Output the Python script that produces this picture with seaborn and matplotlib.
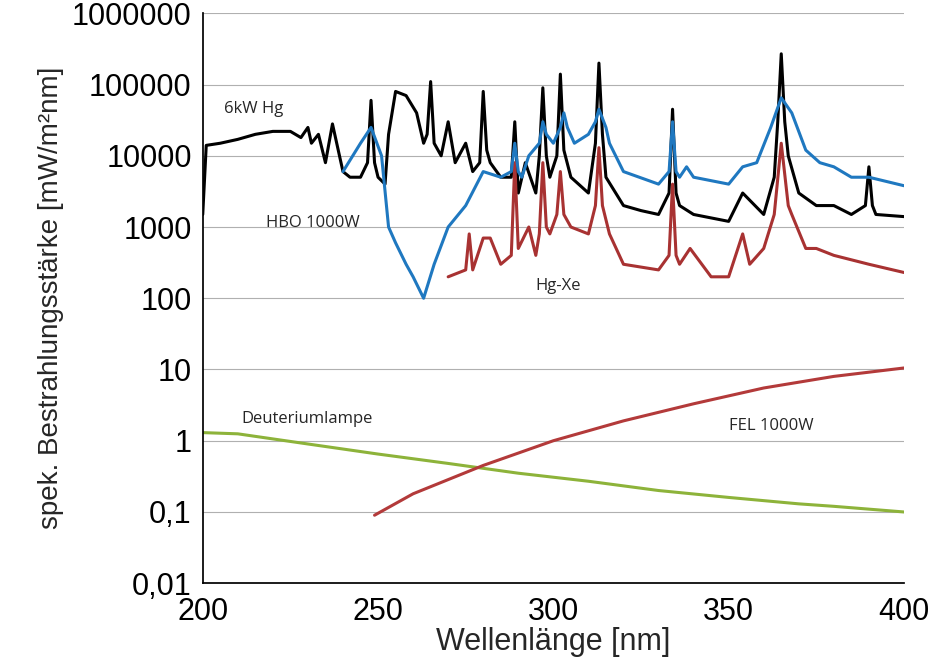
import matplotlib
matplotlib.use("Agg")
import matplotlib.pyplot as plt
import seaborn as sns

hg_x = [200,201,205,210,215,220,225,228,230,231,233,235,237,239,240,242,245,247,248,249,250,252,253,255,258,261,263,264,265,266,268,270,272,275,277,279,280,281,282,285,288,289,290,292,295,296,297,298,299,301,302,303,305,310,312,313,314,315,320,325,330,333,334,335,336,340,350,354,360,363,364,365,366,367,370,375,380,385,389,390,391,392,400]
hg_y = [1500,14000,15000,17000,20000,22000,22000,18000,25000,15000,20000,8000,28000,10000,6000,5000,5000,8000,60000,8000,5000,4000,20000,80000,70000,40000,15000,20000,110000,15000,10000,30000,8000,15000,6000,8000,80000,12000,8000,5000,5000,30000,3000,8000,3000,10000,90000,10000,5000,10000,140000,12000,5000,3000,15000,200000,20000,5000,2000,1700,1500,3000,45000,3000,2000,1500,1200,3000,1500,5000,30000,270000,30000,10000,3000,2000,2000,1500,2000,7000,2000,1500,1400]

hbo_x = [240,245,248,251,253,255,258,260,263,266,270,275,280,285,288,289,290,291,293,296,297,298,300,302,303,304,306,310,312,313,315,316,320,330,333,334,335,336,338,340,350,354,358,362,365,368,372,376,380,385,390,400]
hbo_y = [6000,15000,25000,10000,1000,600,300,200,100,300,1000,2000,6000,5000,6000,15000,6000,5000,10000,15000,30000,20000,15000,25000,40000,25000,15000,20000,30000,45000,25000,15000,6000,4000,6000,30000,6000,5000,7000,5000,4000,7000,8000,25000,65000,40000,12000,8000,7000,5000,5000,3800]

hgxe_x = [270,275,276,277,280,282,285,288,289,290,293,295,296,297,298,299,301,302,303,305,310,312,313,314,316,320,330,333,334,335,336,339,345,350,354,356,360,363,365,367,368,372,375,380,390,400]
hgxe_y = [200,250,800,250,700,700,300,400,8000,500,1000,400,800,8000,1000,800,1500,6000,1500,1000,800,2000,13000,2000,800,300,250,400,4000,400,300,500,200,200,800,300,500,1500,15000,2000,1500,500,500,400,300,230]

fel_x = [249,260,280,300,320,340,360,380,400]
fel_y = [0.09,0.18,0.45,1.0,1.9,3.3,5.5,8,10.5]

d2_x = [200,210,230,250,270,290,310,330,350,370,380,400]
d2_y = [1.3,1.25,0.9,0.65,0.48,0.35,0.27,0.2,0.16,0.13,0.12,0.1]

yticks = [0.01,0.1,1,10,100,1000,10000,100000,1000000]
ylabels = ["0,01","0,1","1","10","100","1000","10000","100000","1000000"]

sns.set_theme(style="white")
plt.rcParams['font.family'] = ['Liberation Sans', 'DejaVu Sans']
fig, ax = plt.subplots(figsize=(9.3, 6.65), dpi=100)
fig.subplots_adjust(left=0.218, right=0.972, top=0.98, bottom=0.123)
ax.set_yscale("log")
ax.set_ylim(0.01, 1e6)
ax.set_xlim(200, 400)
ax.set_yticks(yticks)
ax.set_yticklabels(ylabels)
ax.minorticks_off()
ax.grid(axis="y", color="#b0b0b0", lw=0.8)
ax.set_axisbelow(True)

for x, y, c in [(d2_x, d2_y, "#8db33a"), (fel_x, fel_y, "#b33a3a"),
                (hg_x, hg_y, "black"), (hgxe_x, hgxe_y, "#a83232"), (hbo_x, hbo_y, "#1f78c0")]:
    sns.lineplot(x=x, y=y, ax=ax, color=c, lw=2.2, sort=False)

for spine in ["top", "right"]:
    ax.spines[spine].set_visible(False)
for spine in ["left", "bottom"]:
    ax.spines[spine].set_color("black")
ax.tick_params(labelsize=22, colors="black", length=0)
ax.tick_params(axis="x", pad=10)
ax.tick_params(axis="y", pad=8)
ax.set_xticks([200, 250, 300, 350, 400])
ax.set_xlabel("Wellenlänge [nm]", fontsize=22, labelpad=0)
ax.set_ylabel("spek. Bestrahlungsstärke [mW/m²nm]", fontsize=20, labelpad=6)

tf = ['Open Sans', 'DejaVu Sans']
ax.text(206, 40000, "6kW Hg", fontsize=12, family=tf)
ax.text(218, 1000, "HBO 1000W", fontsize=12, family=tf)
ax.text(295, 130, "Hg-Xe", fontsize=12, family=tf)
ax.text(211, 1.8, "Deuteriumlampe", fontsize=12, family=tf)
ax.text(350, 1.4, "FEL 1000W", fontsize=12, family=tf)
fig.savefig("out.png", dpi=100)
